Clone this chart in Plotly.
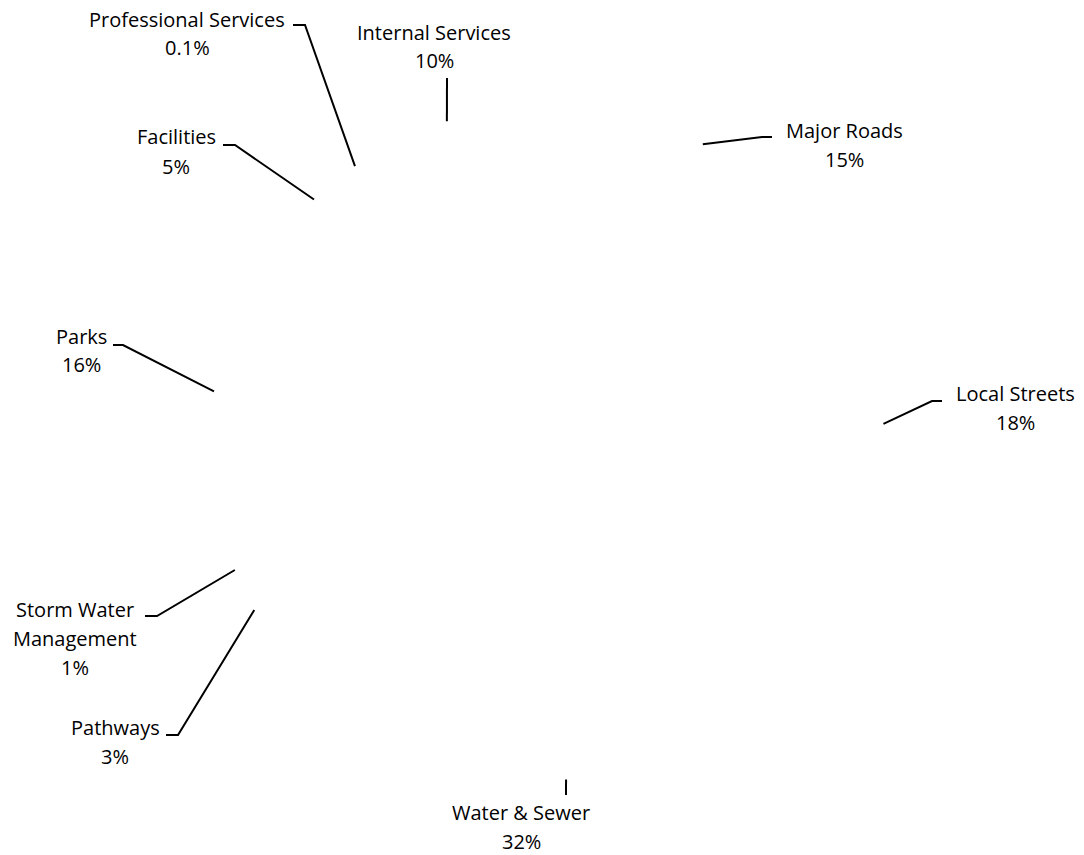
import math
import plotly.graph_objects as go

# ---- data ----
labels = ["Major Roads", "Local Streets", "Water & Sewer", "Pathways",
          "Storm Water<br>Management", "Parks", "Facilities",
          "Professional Services", "Internal Services"]
values = [15.3, 17.6, 32.4, 2.9, 1.3, 15.9, 4.9, 0.1, 9.6]

# ---- layout constants (pixels) ----
W, H = 1084, 855
CX, CY, R = 547, 443, 337          # pie centre and radius
LINE_H = 29                        # label line spacing
# label block: centre x, first line centre y
label_cx = [844, 1015, 521, 115, 75, 81, 176, 187, 434]
label_y0 = [130, 393, 812, 727, 609, 336, 137, 19, 32]
# leader elbow point and horizontal stub end (None = straight line)
elbow = [(762, 137), (932, 401), (566, 795), (178, 735), (157, 616),
         (123, 345), (235, 145), (305, 25), (447, 78)]
stub = [(772, 137), (942, 401), None, (166, 735), (145, 616),
        (113, 345), (223, 145), (293, 25), None]

FONT = dict(family="Open Sans", size=20, color="#000000")


def px(x, y):
    return x / W, 1 - y / H


total = sum(values)
pct_text = []
for v in values:
    p = v / total * 100
    pct_text.append(f"{p:.1f}%" if p < 1 else f"{p:.0f}%")

fig = go.Figure()
fig.add_trace(go.Pie(
    labels=labels, values=values, sort=False, direction="clockwise",
    rotation=0, textinfo="none", hoverinfo="skip", showlegend=False,
    marker=dict(colors=["#ffffff"] * len(values), line=dict(width=0)),
    domain=dict(x=[(CX - R) / W, (CX + R) / W],
                y=[1 - (CY + R) / H, 1 - (CY - R) / H]),
))

shapes = []
annotations = []
cum = 0.0
for i, v in enumerate(values):
    theta = 2 * math.pi * (cum + v / 2) / total
    cum += v
    ix = CX + R * math.sin(theta)
    iy = CY - R * math.cos(theta)
    pts = [(ix, iy), elbow[i]]
    if stub[i] is not None:
        pts.append(stub[i])
    path = "M " + " L ".join(f"{px(x, y)[0]:.5f},{px(x, y)[1]:.5f}" for x, y in pts)
    shapes.append(dict(type="path", path=path, xref="paper", yref="paper",
                       line=dict(color="#000000", width=2)))
    lines = labels[i].split("<br>") + [pct_text[i]]
    for j, t in enumerate(lines):
        ax, ay = px(label_cx[i], label_y0[i] + j * LINE_H)
        annotations.append(dict(text=t, x=ax, y=ay, xref="paper", yref="paper",
                                xanchor="center", yanchor="middle",
                                showarrow=False, font=FONT))

fig.update_layout(
    width=W, height=H, margin=dict(l=0, r=0, t=0, b=0),
    paper_bgcolor="#ffffff", plot_bgcolor="#ffffff",
    shapes=shapes, annotations=annotations, showlegend=False,
)

fig.write_html("out.html")
